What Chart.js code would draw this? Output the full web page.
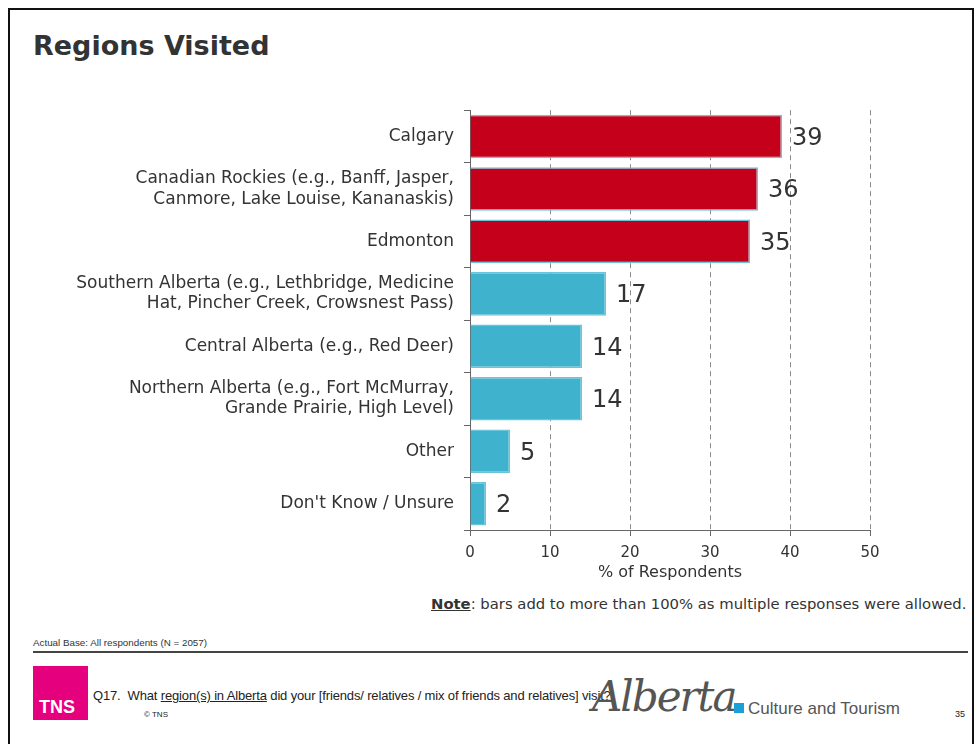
<!DOCTYPE html>
<html>
<head>
<meta charset="utf-8">
<script src="https://cdn.jsdelivr.net/npm/chart.js@4.4.1/dist/chart.umd.min.js"></script>
<style>
  html, body { margin: 0; padding: 0; background: #fff; }
  body { width: 980px; height: 744px; position: relative; overflow: hidden; font-family: "DejaVu Sans", Verdana, sans-serif; color: #333; }
  #frame { position: absolute; left: 8px; top: 8px; width: 966px; height: 760px; border: 2px solid #111; box-sizing: border-box; }
  #title { position: absolute; left: 33px; top: 30px; font-size: 27px; font-weight: bold; color: #333; }
  #wrap { position: absolute; left: 0; top: 90px; width: 900px; height: 500px; }
  #note { position: absolute; left: 431px; top: 595px; font-size: 14.8px; color: #333; }
  #note b { text-decoration: underline; }
  #base { position: absolute; left: 33px; top: 637px; font-size: 9.8px; font-family: "Liberation Sans", Arial, sans-serif; color: #333; }
  #rule { position: absolute; left: 33px; top: 651px; width: 935px; border-top: 2px solid #444; }
  #tns { position: absolute; left: 33px; top: 666px; width: 55px; height: 54px; background: #e5007d; }
  #tns span { position: absolute; left: 6px; bottom: 2px; color: #fff; font: bold 18px "Liberation Sans", Arial, sans-serif; }
  #q17 { position: absolute; left: 93px; top: 688px; font: 13px "Liberation Sans", Arial, sans-serif; letter-spacing: -0.15px; color: #222; }
  #q17 u { text-decoration: underline; }
  #copy { position: absolute; left: 144px; top: 710px; font: 8px "Liberation Sans", Arial, sans-serif; color: #222; }
  #logo { position: absolute; left: 592px; top: 672px; font: italic 42px "DejaVu Serif", serif; color: #555; letter-spacing: -2px; }
  #sq { position: absolute; left: 734px; top: 703px; width: 10px; height: 10px; background: #1a9fd8; }
  #cult { position: absolute; left: 748px; top: 699px; font: 17px "Liberation Sans", Arial, sans-serif; color: #555; }
  #page { position: absolute; left: 955px; top: 709px; font: 9px "Liberation Sans", Arial, sans-serif; color: #222; }
</style>
</head>
<body>
<div id="frame"></div>
<div id="title">Regions Visited</div>
<div id="wrap"><canvas id="chart" width="900" height="500"></canvas></div>
<div id="note"><b>Note</b>: bars add to more than 100% as multiple responses were allowed.</div>
<div id="base">Actual Base: All respondents (N = 2057)</div>
<div id="rule"></div>
<div id="tns"><span>TNS</span></div>
<div id="q17">Q17.&nbsp; What <u>region(s) in Alberta</u> did your [friends/ relatives / mix of friends and relatives] visit?</div>
<div id="copy">© TNS</div>
<div id="logo">Alberta</div>
<div id="sq"></div>
<div id="cult">Culture and Tourism</div>
<div id="page">35</div>

<script>
// regions and share of respondents who visited them
const regions = [
  "Calgary",
  ["Canadian Rockies (e.g., Banff, Jasper,", "Canmore, Lake Louise, Kananaskis)"],
  "Edmonton",
  ["Southern Alberta (e.g., Lethbridge, Medicine", "Hat, Pincher Creek, Crowsnest Pass)"],
  "Central Alberta (e.g., Red Deer)",
  ["Northern Alberta (e.g., Fort McMurray,", "Grande Prairie, High Level)"],
  "Other",
  "Don't Know / Unsure"
];
const percents = [39, 36, 35, 17, 14, 14, 5, 2];
const xTicks = [0, 10, 20, 30, 40, 50];

// top three regions in red, the rest in teal
const barColors = percents.map((v, i) => (i < 3 ? "#c4001a" : "#3fb2cd"));

// writes each value just past the end of its bar
const valueLabels = {
  id: "valueLabels",
  afterDatasetsDraw(chart) {
    const ctx = chart.ctx;
    const meta = chart.getDatasetMeta(0);
    ctx.save();
    ctx.font = "24px 'DejaVu Sans', Verdana, sans-serif";
    ctx.fillStyle = "#333";
    ctx.textBaseline = "middle";
    ctx.textAlign = "left";
    meta.data.forEach((bar, i) => {
      ctx.fillText(String(percents[i]), bar.x + 10, bar.y + 2);
    });
    ctx.restore();
  }
};

new Chart(document.getElementById("chart"), {
  type: "bar",
  data: {
    labels: regions,
    datasets: [{
      data: percents,
      backgroundColor: barColors,
      borderColor: "#6cc4dc",
      borderWidth: 1.5,
      categoryPercentage: 1,
      barPercentage: 0.83
    }]
  },
  options: {
    indexAxis: "y",
    responsive: false,
    animation: false,
    layout: { padding: { top: 0, right: 30, bottom: 0, left: 0 } },
    plugins: {
      legend: { display: false },
      tooltip: { enabled: false }
    },
    scales: {
      x: {
        min: 0,
        max: 50,
        afterBuildTicks: (scale) => { scale.ticks = xTicks.map(v => ({ value: v })); },
        afterFit: (scale) => { scale.height = 60; },
        grid: { color: "#8a8a8a", lineWidth: 1, tickLength: 6, tickBorderDash: [], tickColor: "#666" },
        border: { display: true, color: "#666", dash: [5, 4] },
        ticks: { color: "#333", font: { family: "DejaVu Sans", size: 15 }, padding: 8 },
        title: { display: true, text: "% of Respondents", color: "#333", font: { family: "DejaVu Sans", size: 16 }, padding: { top: 0, bottom: 8 } }
      },
      y: {
        afterFit: (scale) => { scale.width = 470; },
        grid: { offset: true, drawOnChartArea: false, tickLength: 6, color: "#666" },
        border: { display: true, color: "#666" },
        ticks: { color: "#333", font: { family: "DejaVu Sans", size: 17, lineHeight: 1.2 }, padding: 10 }
      }
    }
  },
  plugins: [valueLabels]
});
</script>
</body>
</html>
